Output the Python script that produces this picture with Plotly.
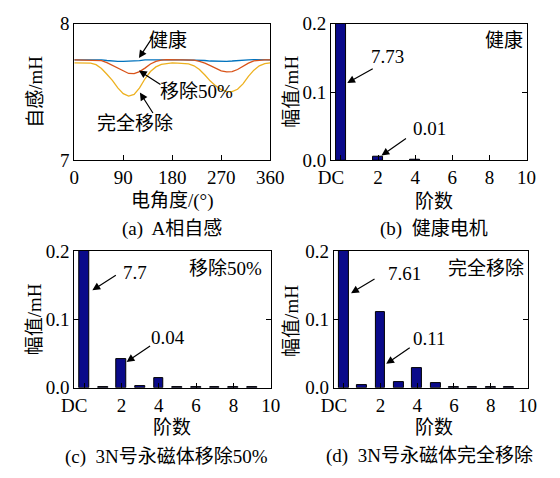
import plotly.graph_objects as go

# ---------------- data ----------------
angle = list(range(0, 361, 10))
L_healthy = [7.736, 7.736, 7.737, 7.736, 7.737, 7.735, 7.731, 7.726, 7.725, 7.725,
             7.725, 7.726, 7.730, 7.735, 7.736, 7.737, 7.737, 7.736, 7.737, 7.736,
             7.736, 7.735, 7.736, 7.735, 7.731, 7.727, 7.725, 7.725, 7.725, 7.727,
             7.731, 7.735, 7.736, 7.737, 7.736, 7.736, 7.736]
L_half = [7.736, 7.735, 7.736, 7.735, 7.734, 7.730, 7.715, 7.695, 7.672, 7.650,
          7.636, 7.635, 7.650, 7.675, 7.705, 7.725, 7.734, 7.737, 7.736, 7.736,
          7.735, 7.736, 7.733, 7.725, 7.712, 7.693, 7.672, 7.655, 7.648, 7.650,
          7.665, 7.690, 7.712, 7.728, 7.734, 7.736, 7.736]
L_full = [7.713, 7.712, 7.714, 7.711, 7.700, 7.672, 7.630, 7.585, 7.530, 7.488,
          7.470, 7.482, 7.530, 7.597, 7.650, 7.684, 7.703, 7.710, 7.713, 7.711,
          7.708, 7.706, 7.692, 7.665, 7.625, 7.580, 7.545, 7.518, 7.503, 7.503,
          7.520, 7.560, 7.615, 7.660, 7.692, 7.708, 7.713]

order = [0, 1, 2, 3, 4, 5, 6, 7, 8, 9]
amp_healthy = [7.73, 0.0, 0.006, 0.0, 0.001, 0.0, 0.0, 0.0, 0.0, 0.0]
amp_half = [7.70, 0.001, 0.042, 0.002, 0.0135, 0.0005, 0.001, 0.0008, 0.0005, 0.001]
amp_full = [7.61, 0.0037, 0.111, 0.008, 0.0284, 0.0065, 0.0015, 0.0015, 0.0005, 0.0003]

angle_ticks = [0, 90, 180, 270, 360]
order_tick_labels = ["DC", "", "2", "4", "6", "8", "10"]
amp_ticks = [0.0, 0.1, 0.2]
amp_tick_labels = ["0.0", "0.1", "0.2"]

# ---------------- style ----------------
OFF = 8                      # page body margin of the browser
W, H = 560 - OFF, 478 - OFF  # figure size so that it fills the window
FONT = "Liberation Serif, Noto Sans CJK SC"
FS = 19
BAR_COLOR = "#0a0a8a"
C_BLUE, C_RED, C_ORANGE = "#0072BD", "#D95319", "#EDB120"


def X(px):
    return (px - OFF) / W


def Y(py):
    return 1 - (py - OFF) / H


fig = go.Figure()

for vals, col in [(L_healthy, C_BLUE), (L_half, C_RED), (L_full, C_ORANGE)]:
    fig.add_trace(go.Scatter(x=angle, y=vals, mode="lines", line=dict(color=col, width=1.3),
                             xaxis="x", yaxis="y", showlegend=False))

for amps, xa, ya in [(amp_healthy, "x2", "y2"), (amp_half, "x3", "y3"), (amp_full, "x4", "y4")]:
    outline = [1 if v > 0 else 0 for v in amps]
    fig.add_trace(go.Bar(x=order, y=amps, width=0.53,
                         marker=dict(color=BAR_COLOR, line=dict(color="black", width=outline)),
                         xaxis=xa, yaxis=ya, showlegend=False))

axis_common = dict(showline=True, linecolor="black", linewidth=1, mirror=True, showgrid=False,
                   zeroline=False, ticks="inside", ticklen=5, tickcolor="black", tickwidth=1,
                   tickfont=dict(family=FONT, size=FS, color="black"))

dom_a = dict(x=[X(64), X(270)], y=[Y(157), Y(14)])
dom_b = dict(x=[X(334), X(540)], y=[Y(157), Y(14)])
dom_c = dict(x=[X(64), X(271)], y=[Y(395), Y(252)])
dom_d = dict(x=[X(337), X(541)], y=[Y(395), Y(252)])

xr = [-0.53, 10.02]
order_tick_vals = [xr[0], 0, 2, 4, 6, 8, 10]

layout = dict(
    width=W, height=H, margin=dict(l=0, r=0, t=0, b=0),
    paper_bgcolor="white", plot_bgcolor="white", bargap=0,
    xaxis=dict(axis_common, domain=dom_a["x"], anchor="y", range=[0, 360], tickvals=angle_ticks),
    yaxis=dict(axis_common, domain=dom_a["y"], anchor="x", range=[7, 8], tickvals=[7, 8]),
)
for i, dom in [(2, dom_b), (3, dom_c), (4, dom_d)]:
    layout[f"xaxis{i}"] = dict(axis_common, domain=dom["x"], anchor=f"y{i}", range=xr,
                               tickvals=order_tick_vals, ticktext=order_tick_labels)
    layout[f"yaxis{i}"] = dict(axis_common, domain=dom["y"], anchor=f"x{i}", range=[0, 0.2],
                               tickvals=amp_ticks, ticktext=amp_tick_labels, mirror="ticks")
fig.update_layout(**layout)

ann = []


def text(px, py, s, angle=0):
    ann.append(dict(x=X(px), y=Y(py), xref="paper", yref="paper", text=s, showarrow=False,
                    xanchor="center", yanchor="middle", textangle=angle,
                    font=dict(family=FONT, size=FS, color="black")))


def arrow(tx, ty, hx, hy):
    ann.append(dict(x=X(hx), y=Y(hy), xref="paper", yref="paper", text="", showarrow=True,
                    ax=tx - hx, ay=ty - hy, arrowhead=2, arrowsize=1.3, arrowwidth=1.2,
                    arrowcolor="black"))


# (a)
text(163, 32, "健康")
arrow(147, 27, 132, 50)
text(192, 85, "移除50%")
arrow(155, 78, 132, 63)
text(128, 118, "完全移除")
arrow(147, 108, 133, 86)
text(167, 200, "电角度/(°)")
text(23, 85, "自感/mH", angle=-90)
text(167, 229, "(a)  A相自感")

# (b)
text(393, 48, "7.73")
arrow(378, 61, 351, 76)
text(438, 124, "0.01")
arrow(413, 134, 387, 152)
text(516, 32, "健康")
text(442, 200, "阶数")
text(292, 85, "幅值/mH", angle=-90)
text(442, 229, "(b)  健康电机")

# (c)
text(128, 274, "7.7")
arrow(108, 277, 83, 293)
text(163, 342, "0.04")
arrow(144, 351, 119, 368)
text(223, 270, "移除50%")
text(167, 437, "阶数")
text(23, 323, "幅值/mH", angle=-90)
text(161, 468, "(c)  3N号永磁体移除50%")

# (d)
text(411, 275, "7.61")
arrow(380, 281, 355, 296)
text(437, 343, "0.11")
arrow(417, 353, 392, 370)
text(497, 270, "完全移除")
text(442, 437, "阶数")
text(293, 325, "幅值/mH", angle=-90)
text(438, 467, "(d)  3N号永磁体完全移除")

fig.update_layout(annotations=ann)
fig.write_html("out.html")
